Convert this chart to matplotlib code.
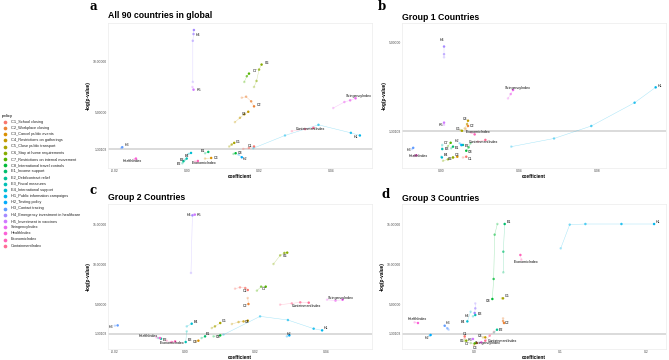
import numpy as np
import matplotlib
matplotlib.use('Agg')
from matplotlib import pyplot as plt

plt.rcParams['font.family'] = ['Liberation Sans', 'DejaVu Sans']

# legend names and the short labels used inside the panels
policy_names = ['C1_School closing', 'C2_Workplace closing', 'C3_Cancel public events',
                'C4_Restrictions on gatherings', 'C5_Close public transport',
                'C6_Stay at home requirements', 'C7_Restrictions on internal movement',
                'C8_International travel controls', 'E1_Income support',
                'E2_Debt/contract relief', 'E3_Fiscal measures', 'E4_International support',
                'H1_Public information campaigns', 'H2_Testing policy', 'H3_Contact tracing',
                'H4_Emergency investment in healthcare', 'H5_Investment in vaccines',
                'StringencyIndex', 'HealthIndex', 'EconomicIndex', 'ContainmentIndex']
short_names = ['C1', 'C2', 'C3', 'C4', 'C5', 'C6', 'C7', 'C8', 'E1', 'E2', 'E3', 'E4',
               'H1', 'H2', 'H3', 'H4', 'H5', 'StringencyIndex', 'HealthIndex',
               'EconomicIndex', 'ContainmentIndex']

# (coefficient, -log(p-value)) paths, label sits on the last point
global_pts = {
    'C1': ([0.0157, 0.0173, 0.0187], [1.33, 1.43, 1.57]),
    'C2': ([0.0153, 0.0165, 0.0179, 0.0187], [6.43, 6.53, 6.07, 5.57]),
    'C3': ([0.0051, 0.0068], [0.37, 0.43]),
    'C4': ([0.0134, 0.0148, 0.0160, 0.0171], [4.00, 4.43, 4.77, 5.03]),
    'C5': ([0.0118, 0.0125, 0.0132], [1.57, 1.77, 1.93]),
    'C6': ([0.0187, 0.0194, 0.0201, 0.0208], [7.50, 8.10, 9.23, 9.73]),
    'C7': ([0.0160, 0.0167, 0.0173], [8.00, 8.57, 8.83]),
    'C8': ([0.0130, 0.0136], [0.83, 0.90]),
    'E1': ([0.0051, 0.0060], [0.90, 1.03]),
    'E2': ([-0.0012, -0.0009], [-0.10, 0.10]),
    'E3': ([-0.0005, 0.0000], [0.23, 0.37]),
    'E4': ([0.0005, 0.0012], [0.83, 0.93]),
    'H1': ([0.0185, 0.0273, 0.0366, 0.0456, 0.0481], [1.40, 2.67, 3.73, 2.93, 2.67]),
    'H2': ([0.0144, 0.0153], [0.77, 0.50]),
    'H3': ([-0.0182, -0.0179], [1.43, 1.50]),
    'H4': ([0.0017, 0.0017, 0.0019, 0.0020], [8.00, 12.10, 12.77, 13.17]),
    'H5': ([0.0016, 0.0019], [7.50, 7.23]),
    'StringencyIndex': ([0.0407, 0.0438, 0.0454, 0.0469], [5.40, 6.00, 6.17, 6.37]),
    'HealthIndex': ([-0.0145, -0.0141], [0.30, 0.37]),
    'EconomicIndex': ([0.0023, 0.0031], [0.07, 0.13]),
    'ContainmentIndex': ([0.0292, 0.0329, 0.0352], [3.10, 3.30, 3.43]),
}

group1_pts = {
    'C1': ([0.0111, 0.0128], [0.20, 0.23]),
    'C2': ([0.0125, 0.0137], [1.37, 1.51]),
    'C3': ([0.0060, 0.0082], [0.19, 0.23]),
    'C4': ([0.0120, 0.0132, 0.0137], [1.41, 1.59, 1.73]),
    'C5': ([0.0099, 0.0106], [1.34, 1.31]),
    'C6': ([0.0009, 0.0034, 0.0060], [0.06, 0.12, 0.20]),
    'C7': ([0.0034, 0.0048], [0.67, 0.81]),
    'C8': ([0.0150, 0.0140, 0.0128], [0.79, 0.62, 0.48]),
    'E1': ([0.0051, 0.0060], [0.58, 0.65]),
    'E2': ([0.0103, 0.0111], [0.70, 0.72]),
    'E3': ([0.0005, 0.0005], [0.72, 0.55]),
    'E4': ([0.0000, 0.0003], [0.23, 0.20]),
    'H1': ([0.0359, 0.0578, 0.0769, 0.0991, 0.1099], [0.65, 0.99, 1.51, 2.48, 3.12]),
    'H2': ([0.0094, 0.0103], [0.79, 0.72]),
    'H3': ([-0.0150, -0.0144], [0.55, 0.60]),
    'H4': ([0.0014, 0.0014, 0.0014], [4.37, 4.50, 4.82]),
    'H5': ([0.0014, 0.0014], [1.56, 1.65]),
    'StringencyIndex': ([0.0342, 0.0356, 0.0368], [2.66, 2.84, 3.01]),
    'HealthIndex': ([-0.0140, -0.0128], [0.26, 0.29]),
    'EconomicIndex': ([0.0154, 0.0171], [1.23, 1.16]),
    'ContainmentIndex': ([0.0188, 0.0226], [0.86, 0.93]),
}

group2_pts = {
    'C1': ([0.0142, 0.0156, 0.0171, 0.0178], [6.92, 7.08, 7.00, 6.75]),
    'C2': ([0.0178, 0.0180], [5.75, 5.00]),
    'C3': ([0.0030, 0.0038], [0.33, 0.42]),
    'C4': ([0.0133, 0.0152, 0.0166, 0.0178], [2.50, 2.75, 2.83, 2.92]),
    'C5': ([0.0076, 0.0085, 0.0100], [2.00, 2.21, 2.63]),
    'C6': ([0.0251, 0.0270, 0.0282, 0.0290], [10.00, 11.08, 11.38, 11.42]),
    'C7': ([0.0204, 0.0216, 0.0229], [6.67, 7.17, 7.17]),
    'C8': ([0.0081, 0.0100], [0.96, 1.08]),
    'E1': ([0.0047, 0.0057], [0.75, 0.96]),
    'E2': ([-0.0076, -0.0068], [0.75, 0.67]),
    'E3': ([0.0005, 0.0002], [1.58, 0.25]),
    'E4': ([0.0005, 0.0019], [2.21, 2.54]),
    'H1': ([0.0109, 0.0213, 0.0292, 0.0365, 0.0389], [1.17, 3.46, 3.00, 1.92, 1.71]),
    'H2': ([0.0289, 0.0296], [0.96, 1.08]),
    'H3': ([-0.0199, -0.0191], [2.29, 2.33]),
    'H4': ([0.0017, 0.0021], [8.88, 16.08]),
    'H5': ([0.0024, 0.0028], [16.17, 16.17]),
    'StringencyIndex': ([0.0403, 0.0427, 0.0447], [5.54, 5.42, 5.54]),
    'HealthIndex': ([-0.0081, -0.0071], [0.83, 0.75]),
    'EconomicIndex': ([-0.0052, -0.0038, -0.0028], [0.42, 0.25, 0.33]),
    'ContainmentIndex': ([0.0270, 0.0303, 0.0327, 0.0351], [4.92, 5.08, 5.21, 5.17]),
}

group3_pts = {
    'C1': ([-0.0108, -0.0108], [0.71, 0.96]),
    'C2': ([0.0337, 0.0337, 0.0348], [3.21, 2.88, 2.63]),
    'C3': ([0.0000, 0.0031], [-0.13, 0.13]),
    'C4': ([0.0104, 0.0131], [0.83, 0.83]),
    'C5': ([0.0325, 0.0337], [5.71, 5.71]),
    'C6': ([-0.0108, -0.0089], [0.42, 0.42]),
    'C7': ([-0.0039, 0.0008], [0.13, 0.08]),
    'C8': ([0.0271, 0.0240, 0.0228, 0.0213], [15.00, 13.67, 8.13, 5.63]),
    'E1': ([0.0340, 0.0340, 0.0356], [8.96, 11.54, 15.00]),
    'E2': ([0.0232, 0.0267], [1.46, 1.79]),
    'E3': ([-0.0012, 0.0015], [3.46, 3.63]),
    'E4': ([-0.0039, -0.0077], [4.04, 2.83]),
    'H1': ([0.1006, 0.1110, 0.1292, 0.1710, 0.2089], [11.96, 14.92, 15.00, 15.00, 15.00]),
    'H2': ([-0.0515, -0.0503], [1.04, 1.13]),
    'H3': ([-0.0294, -0.0309, -0.0340], [1.79, 1.96, 2.29]),
    'H4': ([0.0015, 0.0015, 0.0008], [5.08, 4.46, 3.88]),
    'H5': ([-0.0023, -0.0012], [0.63, 0.63]),
    'StringencyIndex': ([0.0046, 0.0085], [0.13, 0.21]),
    'HealthIndex': ([-0.0689, -0.0650], [2.71, 2.63]),
    'EconomicIndex': ([0.0549, 0.0538], [10.54, 11.13]),
    'ContainmentIndex': ([0.0232, 0.0182, 0.0131], [1.54, 1.04, 0.42]),
}

# label nudges (pixels right, pixels up, alignment)
a_off = {'H4': (2, -5, 'left'), 'C6': (3, 2, 'left'), 'C7': (4, 3, 'left'), 'H5': (3, 0, 'left'),
         'C2': (3, 1, 'left'), 'C4': (-2, -2, 'right'), 'StringencyIndex': (3, 2, 'center'),
         'ContainmentIndex': (-3, -1, 'center'), 'H1': (-2, -2, 'right'), 'C1': (-2, 1, 'right'),
         'C5': (2, 1, 'left'), 'H3': (2, 2, 'left'), 'HealthIndex': (-4, -2, 'center'),
         'E4': (-2, -3, 'right'), 'E3': (-3, -1, 'right'), 'E2': (-2, -3, 'right'),
         'EconomicIndex': (6, -2, 'center'), 'E1': (-3, 1, 'right'), 'C3': (3, 0, 'left'),
         'C8': (2, 0, 'left'), 'H2': (1, -2, 'left')}
b_off = {'H4': (0, 7, 'right'), 'H1': (2, 1, 'left'), 'StringencyIndex': (5, 2, 'center'),
         'H5': (-1, -2, 'right'), 'C4': (-3, 2, 'center'), 'C2': (2, 0, 'left'),
         'C5': (-2, 2, 'right'), 'EconomicIndex': (3, 2, 'center'),
         'ContainmentIndex': (-2, -2, 'center'), 'H2': (-2, 4, 'right'), 'E2': (2, -1, 'left'),
         'E1': (2, -1, 'left'), 'C7': (-2, 0, 'right'), 'C8': (2, -1, 'left'),
         'H3': (-2, -2, 'right'), 'HealthIndex': (2, -1, 'center'), 'E3': (2, 0, 'left'),
         'E4': (2, 2, 'left'), 'C6': (-3, -2, 'center'), 'C3': (0, 2, 'center'),
         'C1': (2, -2, 'left')}
c_off = {'H4': (-1, 0, 'right'), 'H5': (2, 0, 'left'), 'C6': (-4, -3, 'left'),
         'C7': (-2, -2, 'center'), 'C1': (-3, -1, 'center'), 'C2': (-3, -2, 'center'),
         'StringencyIndex': (-2, 2, 'center'), 'ContainmentIndex': (-2, -3, 'center'),
         'H3': (-4, -2, 'right'), 'E4': (2, 2, 'left'), 'C5': (2, 2, 'left'),
         'C4': (-1, -1, 'center'), 'H1': (2, 2, 'left'), 'H2': (0, 1, 'center'),
         'E1': (1, 2, 'left'), 'C8': (-2, -2, 'center'), 'E3': (2, 2, 'left'),
         'C3': (-3, -1, 'center'), 'HealthIndex': (-2, 2, 'right'), 'E2': (2, -1, 'left'),
         'EconomicIndex': (-3, -2, 'center')}
d_off = {'H1': (2, 2, 'left'), 'E1': (2, 2, 'left'), 'C8': (-2, -2, 'right'),
         'EconomicIndex': (6, -7, 'center'), 'C5': (2, 2, 'left'), 'H4': (-5, -3, 'right'),
         'E3': (2, 1, 'left'), 'E4': (-2, -1, 'right'), 'HealthIndex': (-1, 4, 'center'),
         'H3': (1, 3, 'left'), 'H2': (-1, -3, 'right'), 'C2': (1, 0, 'left'),
         'E2': (2, 0, 'left'), 'ContainmentIndex': (3, 0, 'left'), 'C4': (-3, 1, 'right'),
         'StringencyIndex': (7, -1, 'center'), 'C1': (0, 2, 'center'), 'C6': (-2, 0, 'right'),
         'H5': (-1, -1, 'right'), 'C7': (-5, -1, 'right'), 'C3': (-2, -5, 'center')}


# ggplot-like hue palette (hcl, c=100, l=65)
def hcl_color(h, c=100., l=65.):
    u = c * np.cos(np.radians(h))
    v = c * np.sin(np.radians(h))
    xn, yn, zn = 95.047, 100.0, 108.883
    un = 4 * xn / (xn + 15 * yn + 3 * zn)
    vn = 9 * yn / (xn + 15 * yn + 3 * zn)
    y = yn * ((l + 16) / 116) ** 3
    up = u / (13 * l) + un
    vp = v / (13 * l) + vn
    x = y * 9 * up / (4 * vp)
    z = y * (12 - 3 * up - 20 * vp) / (4 * vp)
    x, y, z = x / 100, y / 100, z / 100
    rgb = [3.240479 * x - 1.537150 * y - 0.498535 * z,
           -0.969256 * x + 1.875992 * y + 0.041556 * z,
           0.055648 * x - 0.204043 * y + 1.057311 * z]
    out = []
    for t in rgb:
        t = 12.92 * t if t <= 0.0031308 else 1.055 * t ** (1 / 2.4) - 0.055
        out.append(min(max(t, 0), 1))
    return tuple(out)


colors = [hcl_color(h) for h in np.linspace(15, 375, 22)[:-1]]


def draw_panel(ax, pts, offs, xlim, ylim, xticks, xlabels, yticks, ylabels):
    ax.axhline(1.30103, color='#DADADA', lw=1.4, zorder=0)
    for i, key in enumerate(short_names):
        xs, ys = pts[key]
        col = colors[i]
        ax.plot(xs, ys, color=col, lw=0.35, alpha=0.35, zorder=1)
        alphas = np.linspace(0.3, 1, len(xs))
        ax.scatter(xs, ys, s=3.2, c=[(*col, a) for a in alphas], lw=0, zorder=2)
        dx, dy, ha = offs.get(key, (3, 0, 'left'))
        ax.annotate(key, (xs[-1], ys[-1]), xytext=(dx * 0.72, dy * 0.72),
                    textcoords='offset points', ha=ha, va='center', fontsize=2.6,
                    color='black', zorder=3)
    ax.set_xlim(xlim)
    ax.set_ylim(ylim)
    ax.set_xticks(xticks)
    ax.set_xticklabels(xlabels)
    ax.set_yticks(yticks)
    ax.set_yticklabels(ylabels)
    ax.tick_params(length=0, labelsize=2.4, colors='#4D4D4D', pad=0.8)
    for sp in ax.spines.values():
        sp.set_color('#EBEBEB')
        sp.set_linewidth(0.5)
    ax.set_xlabel('coefficient', fontsize=3.4, fontweight='bold', labelpad=0.6)
    ax.set_ylabel('-log(p-value)', fontsize=3.4, fontweight='bold', labelpad=1.2)


W, H = 669, 360
fig = plt.figure(figsize=(W / 100, H / 100), dpi=100)

def px_axes(x0, y0, x1, y1):
    return fig.add_axes([x0 / W, 1 - y1 / H, (x1 - x0) / W, (y1 - y0) / H])

ax_a = px_axes(108, 23, 372, 168)
ax_b = px_axes(402, 23, 666, 168)
ax_c = px_axes(108, 204, 372, 349)
ax_d = px_axes(402, 204, 666, 349)

draw_panel(ax_a, global_pts, a_off, (-0.02186, 0.05147), (-0.57, 13.87),
           [-0.02, 0.0, 0.02, 0.04], ['-0.02', '0.00', '0.02', '0.04'],
           [1.30103, 5, 10], ['1.30103', '5.00000', '10.00000'])
draw_panel(ax_b, group1_pts, b_off, (-0.02015, 0.1152), (-0.24, 5.8),
           [0.0, 0.04, 0.08], ['0.00', '0.04', '0.08'],
           [1.30103, 5], ['1.30103', '5.00000'])
draw_panel(ax_c, group2_pts, c_off, (-0.02184, 0.05305), (-0.62, 17.5),
           [-0.02, 0.0, 0.02, 0.04], ['-0.02', '0.00', '0.02', '0.04'],
           [1.30103, 5, 10, 15], ['1.30103', '5.00000', '10.00000', '15.00000'])
draw_panel(ax_d, group3_pts, d_off, (-0.0835, 0.2227), (-0.62, 17.5),
           [0.0, 0.1, 0.2], ['0.0', '0.1', '0.2'],
           [1.30103, 5, 10, 15], ['1.30103', '5.00000', '10.00000', '15.00000'])

# titles and panel letters
titles = ['All 90 countries in global', 'Group 1 Countries', 'Group 2 Countries', 'Group 3 Countries']
title_xy = [(108, 16), (402, 17), (108, 197), (402, 198)]
letters = ['a', 'b', 'c', 'd']
letter_xy = [(89, 6), (378, 6), (90, 191), (381, 195)]
for t, (x, y) in zip(titles, title_xy):
    fig.text(x / W, 1 - y / H, t, fontsize=6.3, fontweight='bold', ha='left', va='center')
for t, (x, y) in zip(letters, letter_xy):
    fig.text(x / W, 1 - y / H, t, fontsize=8.5, fontweight='bold', family='DejaVu Serif',
             ha='left', va='center')

# legend drawn by hand on the left side
leg = fig.add_axes([0, 0, 1, 1], zorder=-1)
leg.set_xlim(0, W)
leg.set_ylim(H, 0)
leg.axis('off')
leg.text(2, 115.5, 'policy', fontsize=3.2, va='center', ha='left')
for i, name in enumerate(policy_names):
    yy = 121.7 + i * 6.2
    leg.scatter([4.5], [yy], s=7, color=colors[i], lw=0)
    leg.text(11, yy, name, fontsize=2.8, va='center', ha='left', color='#222222')

plt.savefig('out.png', dpi=100)
